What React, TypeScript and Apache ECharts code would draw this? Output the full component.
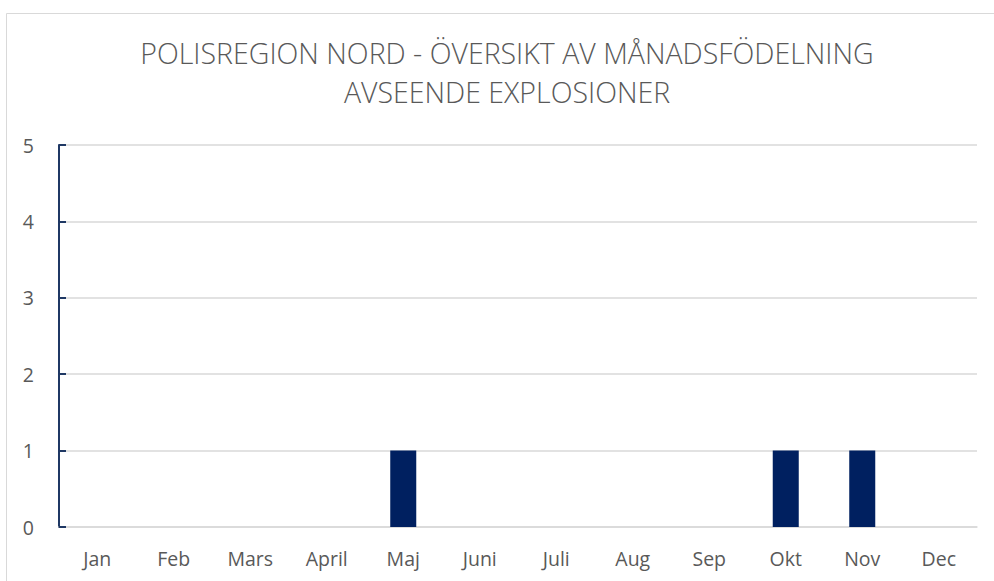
import React, { useEffect, useRef } from "react";
import * as echarts from "echarts";

const titleLines = ["POLISREGION NORD - ÖVERSIKT AV MÅNADSFÖDELNING", "AVSEENDE EXPLOSIONER"];
const months = ["Jan", "Feb", "Mars", "April", "Maj", "Juni", "Juli", "Aug", "Sep", "Okt", "Nov", "Dec"];
const counts = [0, 0, 0, 0, 1, 0, 0, 0, 0, 1, 1, 0];

export default function App() {
  const ref = useRef<HTMLDivElement>(null);
  useEffect(() => {
    if (!ref.current) return;
    const chart = echarts.init(ref.current, null, { renderer: "svg" });
    chart.setOption({
      animation: false,
      backgroundColor: "#ffffff",
      textStyle: { fontFamily: "Open Sans" },
      title: {
        text: titleLines.join("\n"),
        left: 502,
        textAlign: "center",
        top: 28,
        textStyle: {
          fontFamily: "Open Sans",
          fontWeight: 300,
          fontSize: 28.5,
          color: "#595959",
          lineHeight: 39,
        },
      },
      graphic: [
        {
          type: "rect",
          shape: { x: 6.5, y: 13.5, width: 1000, height: 600 },
          style: { fill: "none", stroke: "#d9d9d9", lineWidth: 1 },
          silent: true,
        },
      ],
      grid: { left: 59, right: 17, top: 145, bottom: 54, containLabel: false },
      xAxis: {
        type: "category",
        data: months,
        axisLine: { show: true, lineStyle: { color: "#d9d9d9", width: 1.5 } },
        axisTick: { show: false },
        axisLabel: { color: "#595959", fontSize: 19.5, margin: 21, fontFamily: "Open Sans" },
      },
      yAxis: {
        type: "value",
        min: 0,
        max: 5,
        interval: 1,
        axisLine: { show: true, lineStyle: { color: "#1f3864", width: 2 } },
        axisTick: { show: true, inside: true, length: 7, lineStyle: { color: "#1f3864", width: 2 } },
        axisLabel: { color: "#595959", fontSize: 19.5, margin: 25, fontFamily: "Open Sans" },
        splitLine: { show: true, lineStyle: { color: "#d9d9d9", width: 1.5 } },
      },
      series: [
        {
          type: "bar",
          data: counts,
          barWidth: "34%",
          itemStyle: { color: "#002060" },
        },
      ],
    });
    return () => chart.dispose();
  }, []);
  return <div ref={ref} style={{ width: 994, height: 581, position: "absolute", left: 0, top: 0 }} />;
}
